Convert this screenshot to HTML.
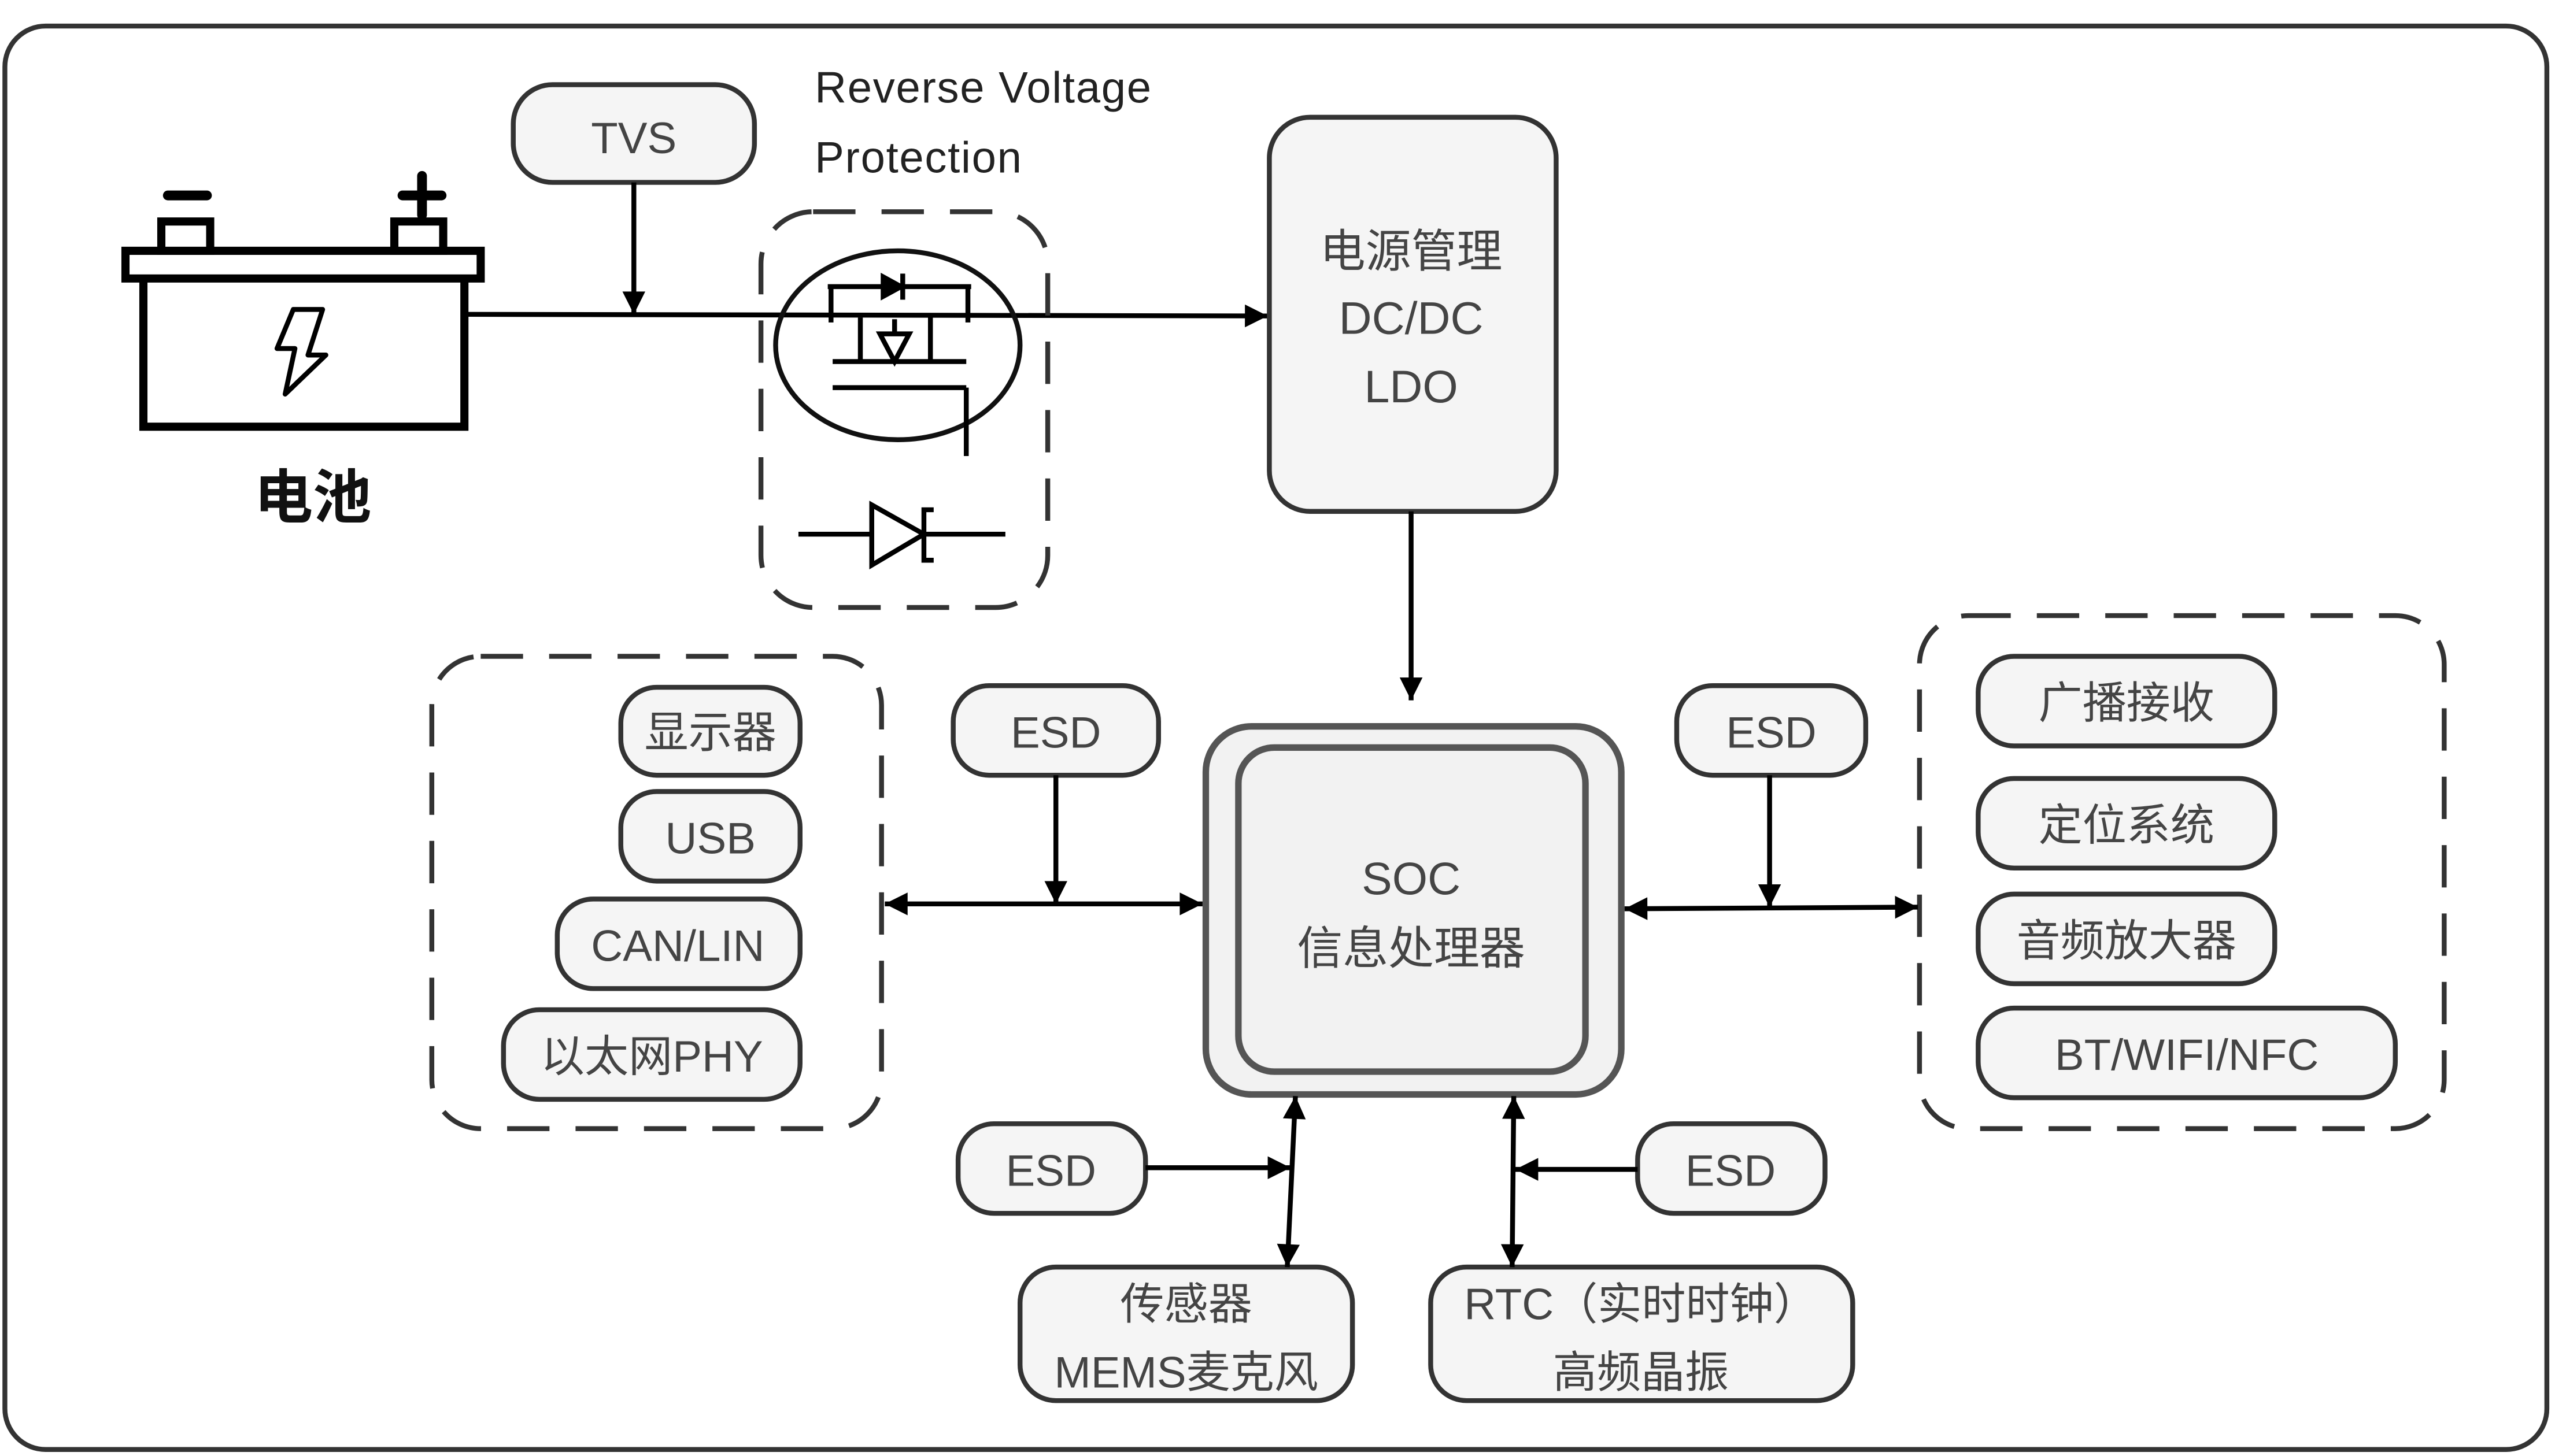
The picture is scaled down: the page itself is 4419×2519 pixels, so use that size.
<!DOCTYPE html>
<html><head><meta charset="utf-8"><style>
html,body{margin:0;padding:0;background:#fff}
svg{display:block}
text{font-family:"Liberation Sans","Noto Sans CJK SC",sans-serif;fill:#444;text-anchor:middle}
</style></head><body>
<svg width="4419" height="2519" viewBox="0 0 1568 894" preserveAspectRatio="none" xmlns="http://www.w3.org/2000/svg">
<defs>
<marker id="b" viewBox="0 0 10 10" refX="10" refY="5" markerWidth="18" markerHeight="14" orient="auto-start-reverse" markerUnits="userSpaceOnUse"><path d="M0,0L10,5L0,10z" fill="#000"/></marker>
</defs>
<rect x="3" y="16" width="1560" height="874" rx="25" fill="#fff" stroke="#333" stroke-width="3"/>

<!-- battery -->
<rect x="88" y="168" width="197" height="94" fill="#fff" stroke="#000" stroke-width="5"/>
<rect x="77" y="154" width="218" height="17" fill="#fff" stroke="#000" stroke-width="5"/>
<rect x="99" y="136" width="30" height="18" fill="#fff" stroke="#000" stroke-width="5"/>
<rect x="242" y="136" width="30" height="18" fill="#fff" stroke="#000" stroke-width="5"/>
<line x1="103" y1="120" x2="127" y2="120" stroke="#000" stroke-width="6" stroke-linecap="round"/>
<line x1="247" y1="120" x2="271" y2="120" stroke="#000" stroke-width="6" stroke-linecap="round"/>
<line x1="259" y1="108" x2="259" y2="132" stroke="#000" stroke-width="6" stroke-linecap="round"/>
<path d="M180,190 L198,190 L189,218 L200,218 L175,242 L181,214 L170,214 Z" fill="#fff" stroke="#000" stroke-width="3" stroke-linejoin="round"/>
<text x="192" y="318" style="font-size:36px;font-weight:bold;fill:#111">电池</text>

<!-- main wire -->
<line x1="285" y1="193" x2="778" y2="194" stroke="#000" stroke-width="3" marker-end="url(#b)"/>
<rect x="315" y="52" width="148" height="60" rx="24" fill="#f5f5f5" stroke="#333" stroke-width="3"/>
<text x="389" y="94" style="font-size:27px">TVS</text>
<line x1="389" y1="112" x2="389" y2="193" stroke="#000" stroke-width="3" marker-end="url(#b)"/>
<text x="500" y="63" style="font-size:27px;text-anchor:start;fill:#222;letter-spacing:0.6px">Reverse Voltage</text>
<text x="500" y="106" style="font-size:27px;text-anchor:start;fill:#222;letter-spacing:0.6px">Protection</text>

<rect x="467" y="130" width="176" height="243" rx="32" fill="none" stroke="#333" stroke-width="3" stroke-dasharray="26,16"/>
<ellipse cx="551" cy="212" rx="75" ry="58" fill="none" stroke="#111" stroke-width="3"/>
<g stroke="#000" stroke-width="3" fill="none">
<line x1="508" y1="176" x2="596" y2="176"/>
<line x1="510" y1="176" x2="510" y2="198"/>
<line x1="594" y1="176" x2="594" y2="198"/>
<path d="M554,168 L554,184 M553,176 L542,170 L542,182 Z" fill="#000"/>
<line x1="511" y1="222" x2="593" y2="222"/>
<line x1="511" y1="238" x2="593" y2="238"/>
<line x1="593" y1="238" x2="593" y2="280"/>
<line x1="528" y1="195" x2="528" y2="222"/>
<line x1="571" y1="195" x2="571" y2="222"/>
<path d="M540,205 L558,205 L549,222 Z"/>
<line x1="549" y1="196" x2="549" y2="205"/>
</g>
<g stroke="#000" stroke-width="3">
<line x1="490" y1="328" x2="535" y2="328"/>
<line x1="567" y1="328" x2="617" y2="328"/>
<path d="M535,310 L535,347 L567,328 Z" fill="#fff"/>
<path d="M573,313 L567,313 L567,344 L573,344" fill="none"/>
</g>

<!-- power -->
<rect x="779" y="72" width="176" height="242" rx="25" fill="#f5f5f5" stroke="#333" stroke-width="3"/>
<text x="866" y="164" style="font-size:28px">电源管理</text>
<text x="866" y="205" style="font-size:28px">DC/DC</text>
<text x="866" y="247" style="font-size:28px">LDO</text>
<line x1="866" y1="314" x2="866" y2="430" stroke="#000" stroke-width="3" marker-end="url(#b)"/>

<!-- SOC -->
<rect x="740" y="446" width="255" height="226" rx="28" fill="#f2f2f2" stroke="#555" stroke-width="4"/>
<rect x="760" y="459" width="213" height="199" rx="22" fill="#f2f2f2" stroke="#555" stroke-width="4"/>
<text x="866" y="549" style="font-size:28px">SOC</text>
<text x="866" y="592" style="font-size:28px">信息处理器</text>

<rect x="265" y="403" width="276" height="290" rx="30" fill="none" stroke="#333" stroke-width="3" stroke-dasharray="26,16"/>
<g fill="#f5f5f5" stroke="#333" stroke-width="3">
<rect x="381" y="422" width="110" height="54" rx="22"/>
<rect x="381" y="486" width="110" height="55" rx="22"/>
<rect x="342" y="552" width="149" height="55" rx="22"/>
<rect x="309" y="620" width="182" height="55" rx="22"/>
<rect x="585" y="421" width="126" height="55" rx="22"/>
<rect x="1029" y="421" width="116" height="55" rx="22"/>
<rect x="1214" y="403" width="182" height="55" rx="22"/>
<rect x="1214" y="478" width="182" height="55" rx="22"/>
<rect x="1214" y="549" width="182" height="55" rx="22"/>
<rect x="1214" y="619" width="256" height="55" rx="22"/>
<rect x="588" y="690" width="115" height="55" rx="22"/>
<rect x="1005" y="690" width="115" height="55" rx="22"/>
<rect x="626" y="778" width="204" height="82" rx="22"/>
<rect x="878" y="778" width="259" height="82" rx="22"/>
</g>
<g style="font-size:27px">
<text x="436" y="459">显示器</text>
<text x="436" y="524">USB</text>
<text x="416" y="590">CAN/LIN</text>
<text x="400" y="658">以太网PHY</text>
<text x="648" y="459">ESD</text>
<text x="1087" y="459">ESD</text>
<text x="1305" y="441">广播接收</text>
<text x="1305" y="516">定位系统</text>
<text x="1305" y="587">音频放大器</text>
<text x="1342" y="657">BT/WIFI/NFC</text>
<text x="645" y="728">ESD</text>
<text x="1062" y="728">ESD</text>
<text x="728" y="810">传感器</text>
<text x="728" y="852">MEMS麦克风</text>
<text x="1007" y="810">RTC（实时时钟）</text>
<text x="1007" y="852">高频晶振</text>
</g>
<rect x="1178" y="378" width="322" height="315" rx="30" fill="none" stroke="#333" stroke-width="3" stroke-dasharray="26,16"/>

<g stroke="#000" stroke-width="3">
<line x1="648" y1="476" x2="648" y2="555" marker-end="url(#b)"/>
<line x1="543" y1="555" x2="738" y2="555" marker-start="url(#b)" marker-end="url(#b)"/>
<line x1="1086" y1="476" x2="1086" y2="557" marker-end="url(#b)"/>
<line x1="997" y1="558" x2="1177" y2="557" marker-start="url(#b)" marker-end="url(#b)"/>
<line x1="703" y1="717" x2="792" y2="717" marker-end="url(#b)"/>
<line x1="795" y1="673" x2="790" y2="778" marker-start="url(#b)" marker-end="url(#b)"/>
<line x1="1005" y1="718" x2="930" y2="718" marker-end="url(#b)"/>
<line x1="929" y1="673" x2="928" y2="778" marker-start="url(#b)" marker-end="url(#b)"/>
</g>
</svg>
</body></html>
